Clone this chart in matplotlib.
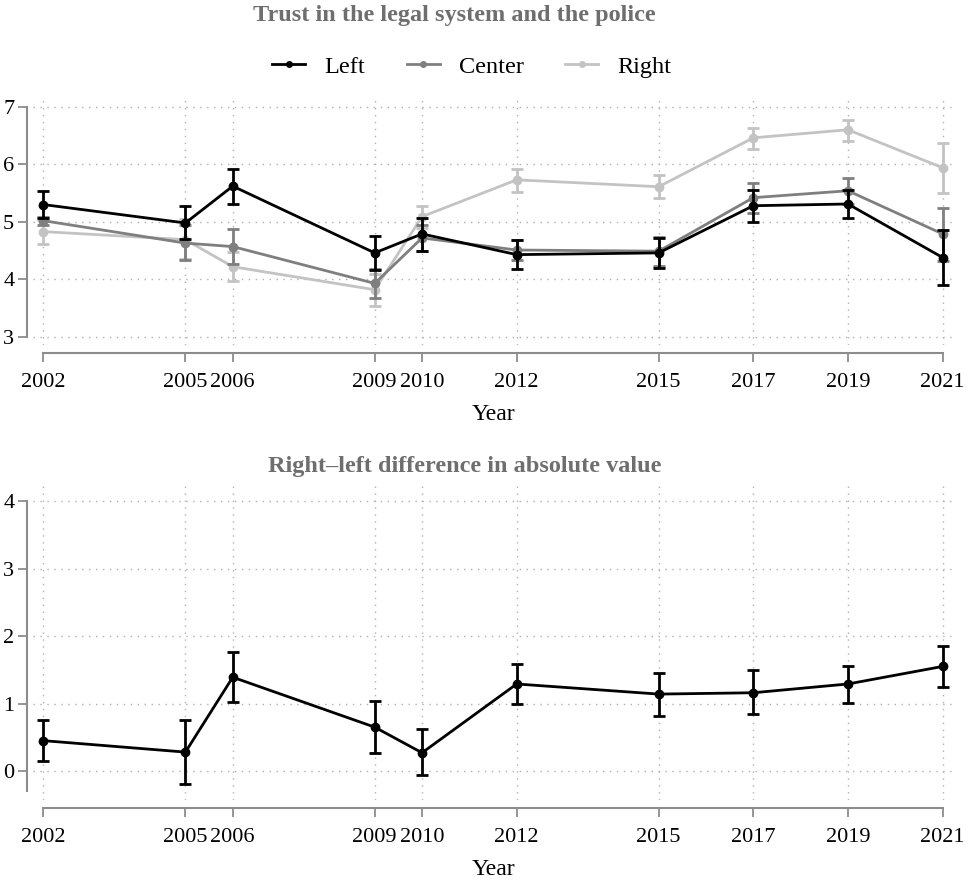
import numpy as np
import matplotlib
matplotlib.use("Agg")
import matplotlib.pyplot as plt

plt.rcParams['font.family'] = ['Liberation Serif', 'DejaVu Serif']

years = [2002, 2005, 2006, 2009, 2010, 2012, 2015, 2017, 2019, 2021]

# trust by political side: mean, lower bound, upper bound
left_mean = [5.30, 4.98, 5.62, 4.46, 4.79, 4.43, 4.46, 5.28, 5.31, 4.38]
left_lo = [5.06, 4.70, 5.31, 4.16, 4.50, 4.18, 4.20, 5.00, 5.07, 3.91]
left_hi = [5.54, 5.28, 5.92, 4.76, 5.07, 4.68, 4.72, 5.56, 5.55, 4.86]

center_mean = [5.02, 4.63, 4.57, 3.93, 4.72, 4.51, 4.49, 5.42, 5.54, 4.79]
center_lo = [4.95, 4.34, 4.27, 3.68, 4.50, 4.33, 4.24, 5.16, 5.31, 4.32]
center_hi = [5.08, 4.95, 4.87, 4.18, 4.95, 4.69, 4.74, 5.68, 5.77, 5.24]

right_mean = [4.83, 4.69, 4.22, 3.82, 5.09, 5.73, 5.61, 6.46, 6.60, 5.94]
right_lo = [4.62, 4.35, 3.98, 3.53, 4.90, 5.52, 5.42, 6.27, 6.41, 5.50]
right_hi = [5.04, 5.05, 4.48, 4.10, 5.27, 5.92, 5.81, 6.63, 6.77, 6.37]

# right-left absolute difference
diff_mean = [0.45, 0.28, 1.39, 0.65, 0.27, 1.29, 1.14, 1.16, 1.29, 1.55]
diff_lo = [0.15, -0.19, 1.02, 0.27, -0.06, 1.00, 0.82, 0.84, 1.01, 1.25]
diff_hi = [0.76, 0.76, 1.76, 1.04, 0.62, 1.59, 1.46, 1.49, 1.56, 1.85]

title_col = "#6e6e6e"
spine_col = "#8c8c8c"
grid_col = "#b0b0b0"
fs = 16


def style_axes(ax, ylim, yticks, ybounds):
    ax.set_xlim(2001.78, 2021.22)
    ax.set_ylim(*ylim)
    ax.set_xticks(years)
    ax.set_xticklabels([str(y) for y in years])
    ax.set_yticks(yticks)
    for s in ["top", "right"]:
        ax.spines[s].set_visible(False)
    ax.spines["left"].set_position(("outward", 4))
    ax.spines["bottom"].set_position(("outward", 6))
    ax.spines["left"].set_bounds(*ybounds)
    ax.spines["bottom"].set_bounds(2002, 2021)
    for s in ["left", "bottom"]:
        ax.spines[s].set_color(spine_col)
        ax.spines[s].set_linewidth(1.5)
    ax.tick_params(axis="both", color=spine_col, width=1.3, length=6.5,
                   labelsize=fs, labelcolor="black")
    ax.tick_params(axis="x", pad=8)
    ax.tick_params(axis="y", pad=3)
    ax.grid(True, linestyle=(0, (1, 4)), color=grid_col, linewidth=1.0)
    ax.set_axisbelow(True)
    ax.set_xlabel("Year", fontsize=fs + 1, labelpad=8)


def draw_series(ax, mean, lo, hi, color, label=None, z=2):
    m = np.array(mean)
    err = [m - np.array(lo), np.array(hi) - m]
    ax.errorbar(years, m, yerr=err, color=color, ecolor=color,
                lw=2.0, elinewidth=2.0, capsize=4.5, capthick=2.0,
                marker="o", ms=6, label=label, zorder=z)


fig = plt.figure(figsize=(9.69, 8.8), dpi=100)

ax1 = fig.add_axes([0.0341, 0.6080, 0.9494, 0.2818])
draw_series(ax1, right_mean, right_lo, right_hi, "#c3c3c3", "Right", 2)
draw_series(ax1, center_mean, center_lo, center_hi, "#7f7f7f", "Center", 3)
draw_series(ax1, left_mean, left_lo, left_hi, "black", "Left", 4)
style_axes(ax1, (2.86, 7.17), [3, 4, 5, 6, 7], (3, 7))

ax2 = fig.add_axes([0.0341, 0.0909, 0.9494, 0.3580])
draw_series(ax2, diff_mean, diff_lo, diff_hi, "black")
style_axes(ax2, (-0.43, 4.24), [0, 1, 2, 3, 4], (-0.3, 4))

fig.text(454 / 969, 1 - 16 / 880, "Trust in the legal system and the police",
         ha="center", va="center", fontsize=17.5, fontweight="bold",
         color=title_col)
fig.text(465 / 969, 1 - 466 / 880, "Right\u2013left difference in absolute value",
         ha="center", va="center", fontsize=17.5, fontweight="bold",
         color=title_col)

h, l = ax1.get_legend_handles_labels()
order = [2, 1, 0]
handles = []
for i in order:
    line = h[i][0]
    handles.append(plt.Line2D([], [], color=line.get_color(), lw=2.0,
                              marker="o", ms=4))
fig.legend(handles, [l[i] for i in order], loc="center",
           bbox_to_anchor=(472 / 969, 1 - 67 / 880), ncol=3, frameon=False,
           fontsize=17.5, handlelength=1.35, columnspacing=1.7,
           handletextpad=0.8)

fig.savefig("out.png", dpi=100)
